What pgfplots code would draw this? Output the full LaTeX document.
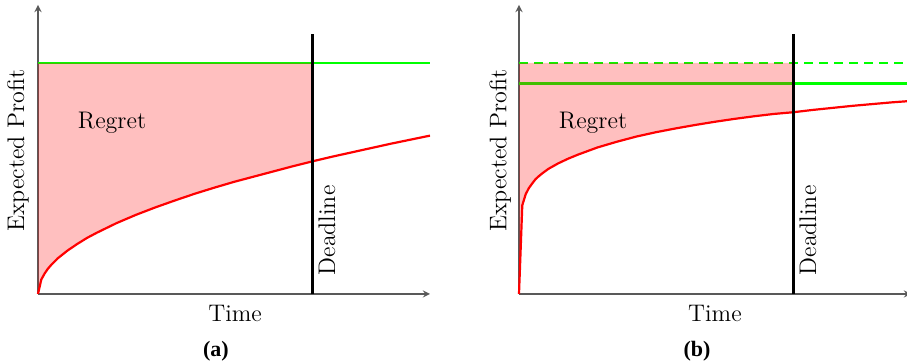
\documentclass[border=0pt]{standalone}
\usepackage{fontspec}
\newfontfamily\capfont{Liberation Serif}
\usepackage{pgfplots}
\pgfplotsset{compat=1.18}
\definecolor{fillred}{RGB}{255,0,0}
\begin{document}
\begin{tikzpicture}
\path[use as bounding box] (0,0) rectangle (453.5pt,182pt);
\pgfplotsset{
  myax/.style={
    scale only axis, width=196pt, height=144.5pt,
    xmin=0, xmax=10, ymin=0, ymax=10,
    axis lines=left, xtick=\empty, ytick=\empty,
    axis line style={black!65, line width=0.6pt},
    clip=false, anchor=south west,
  },
}
\begin{axis}[myax, at={(19pt,35pt)}]
\addplot[green, line width=1.2pt] coordinates {(0,8) (10,8)};
\addplot[draw=none, fill=fillred, fill opacity=0.25] coordinates {
(0,8) (7,8) (7,4.59) (6.5,4.42) (6,4.24) (5.5,4.06) (5,3.88) (4.5,3.68) (4,3.47) (3.5,3.24) (3,3.00) (2.5,2.74) (2,2.45) (1.5,2.12) (1.25,1.94) (1,1.73) (0.75,1.50) (0.5,1.23) (0.34,1.01) (0.25,0.87) (0.17,0.71) (0.084,0.50) (0,0)} -- cycle;
\addplot[red, line width=1.1pt, line join=round] coordinates {
(0,0) (0.084,0.50) (0.17,0.71) (0.25,0.87) (0.34,1.01) (0.5,1.23) (0.75,1.50) (1,1.73) (1.25,1.94) (1.5,2.12) (2,2.45) (2.5,2.74) (3,3.00) (3.5,3.24) (4,3.47) (4.5,3.68) (5,3.88) (5.5,4.06) (6,4.24) (6.5,4.42) (7,4.59) (7.5,4.75) (8,4.90) (8.5,5.05) (9,5.20) (9.5,5.34) (10,5.48)};
\addplot[black, line width=1.2pt] coordinates {(7,0) (7,9)};
\node[font=\fontsize{12}{14}\selectfont] at (axis cs:1.89,5.93) {Regret};
\node[font=\fontsize{12}{14}\selectfont, rotate=90] at (axis cs:7.37,2.2) {Deadline};
\node[font=\fontsize{12}{14}\selectfont, rotate=90] at (axis cs:-0.51,4.97) {Expected Profit};
\node[font=\fontsize{12}{14}\selectfont] at (axis cs:5.03,-0.66) {Time};
\node[font={\fontsize{11}{13}\selectfont\capfont\bfseries}] at (axis cs:4.54,-1.97) {(a)};
\end{axis}
\begin{axis}[myax, at={(259.5pt,35pt)}]
\addplot[green, line width=1.2pt, dash pattern=on 4.5pt off 3pt] coordinates {(0,8) (10,8)};
\addplot[green, line width=1.2pt] coordinates {(0,7.28) (10,7.28)};
\addplot[draw=none, fill=fillred, fill opacity=0.25] coordinates {
(0,8) (7,8) (7,6.29) (6.5,6.23) (6,6.15) (5.5,6.06) (5,5.96) (4.5,5.85) (4,5.73) (3.5,5.60) (3,5.45) (2.5,5.27) (2,5.07) (1.5,4.82) (1.25,4.68) (1,4.52) (0.75,4.33) (0.6,4.18) (0.5,4.07) (0.42,3.97) (0.34,3.83) (0.25,3.66) (0.17,3.45) (0.084,3.07) (0,0)} -- cycle;
\addplot[red, line width=1.1pt, line join=round] coordinates {
(0,0) (0.084,3.07) (0.17,3.45) (0.25,3.66) (0.34,3.83) (0.42,3.97) (0.5,4.07) (0.6,4.18) (0.75,4.33) (1,4.52) (1.25,4.68) (1.5,4.82) (2,5.07) (2.5,5.27) (3,5.45) (3.5,5.60) (4,5.73) (4.5,5.85) (5,5.96) (5.5,6.06) (6,6.15) (6.5,6.23) (7,6.29) (7.5,6.37) (8,6.44) (8.5,6.51) (9,6.57) (9.5,6.63) (10,6.68)};
\addplot[black, line width=1.2pt] coordinates {(7,0) (7,9)};
\node[font=\fontsize{12}{14}\selectfont] at (axis cs:1.89,5.93) {Regret};
\node[font=\fontsize{12}{14}\selectfont, rotate=90] at (axis cs:7.37,2.2) {Deadline};
\node[font=\fontsize{12}{14}\selectfont, rotate=90] at (axis cs:-0.48,4.97) {Expected Profit};
\node[font=\fontsize{12}{14}\selectfont] at (axis cs:5.0,-0.66) {Time};
\node[font={\fontsize{11}{13}\selectfont\capfont\bfseries}] at (axis cs:4.54,-1.97) {(b)};
\end{axis}
\end{tikzpicture}
\end{document}
